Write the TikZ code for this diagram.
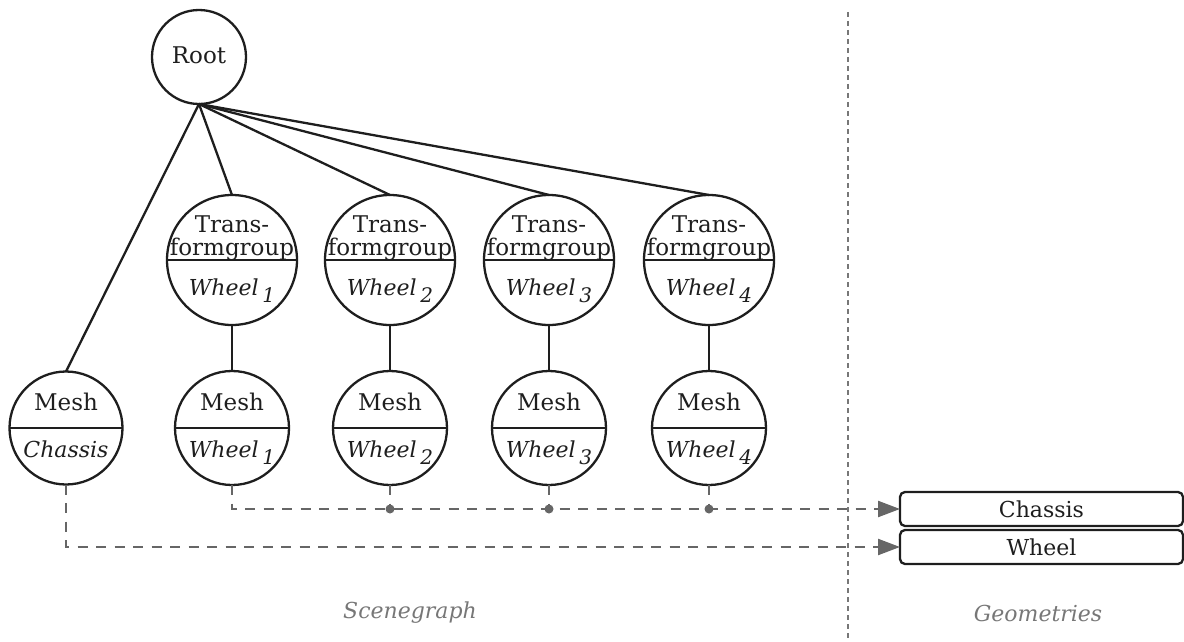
\documentclass[tikz,border=0pt]{standalone}
\usepackage{fontspec}
\setmainfont{DejaVu Serif}
\usetikzlibrary{arrows.meta}
\definecolor{ink}{HTML}{1E1E1E}
\definecolor{dgray}{HTML}{666666}
\definecolor{sgray}{HTML}{777777}
\tikzset{
  nd/.style={circle,draw=ink,line width=2.3pt,inner sep=0pt,outer sep=0pt,minimum size=#1},
  edge/.style={draw=ink,line width=2.3pt},
  ref/.style={draw=dgray,line width=2.3pt,dash pattern=on 10pt off 8.5pt},
  sepline/.style={draw=sgray,line width=1.1pt,dash pattern=on 5pt off 4pt},
  uptext/.style={anchor=base,font=\fontsize{23}{24}\selectfont,inner sep=0pt,text=ink},
  lowtext/.style={anchor=base,font=\fontsize{22}{24}\selectfont\itshape,inner sep=0pt,text=ink},
  geo/.style={draw=ink,line width=2.3pt,rounded corners=5pt,minimum width=283pt,minimum height=34pt,inner sep=0pt,outer sep=0pt,font=\fontsize{22}{24}\selectfont,text=ink},
  tip/.style={-{Triangle[length=22pt,width=16pt]}},
  region/.style={font=\fontsize{22}{24}\selectfont\itshape,text=sgray,inner sep=0pt},
}
\newcommand\sbs[1]{\,\raisebox{-0.65ex}{\fontsize{20}{20}\selectfont #1}}
\begin{document}
\begin{tikzpicture}[x=1pt,y=-1pt]
\useasboundingbox (0,0) rectangle (1184,642);
% root
\node[nd=94pt] (root) at (199,57) {};
\node[uptext] (troot) at (199,64) {Root};
% transform groups
\foreach \i/\x in {1/232,2/390,3/549,4/709}{
  \node[nd=130pt] (tg\i) at (\x,260) {};
  \draw[edge] (tg\i.west) -- (tg\i.east);
  \node[uptext] (tga\i) at (\x,232) {Trans-};
  \node[uptext] (tgb\i) at (\x,255) {formgroup};
  \node[lowtext] (tgc\i) at (\x,295) {Wheel\sbs{\i}};
  \node[nd=114pt] (mw\i) at (\x,428) {};
  \draw[edge] (mw\i.west) -- (mw\i.east);
  \node[uptext] (mwa\i) at (\x,410) {Mesh};
  \node[lowtext] (mwb\i) at (\x,457) {Wheel\sbs{\i}};
  \draw[edge] (root.south) -- (tg\i.north);
  \draw[edge] (tg\i.south) -- (mw\i.north);
}
% chassis mesh
\node[nd=113pt] (mc) at (66,428) {};
\draw[edge] (mc.west) -- (mc.east);
\node[uptext] (mca) at (66,410) {Mesh};
\node[lowtext] (mcb) at (66,457) {Chassis};
\draw[edge] (root.south) -- (mc.north);
% geometries
\node[geo] (gc) at (1041.5,509) {Chassis};
\node[geo] (gw) at (1041.5,547) {Wheel};
% separator
\coordinate (st) at (848,12);
\coordinate (sb) at (848,642);
\draw[sepline] (st) -- (sb);
% references
\draw[ref,tip] (mw1.south) |- (gc.west);
\foreach \i in {2,3,4}{
  \coordinate (d\i) at (mw\i.south |- gc.west);
  \draw[ref] (mw\i.south) -- (d\i);
  \fill[dgray] (d\i) circle (4.5pt);
}
\draw[ref,tip] (mc.south) |- (gw.west);
% region labels
\node[region] (lsg) at (410,613) {Scenegraph};
\node[region] (lgeo) at (1038,613) {Geometries};
\end{tikzpicture}
\end{document}
